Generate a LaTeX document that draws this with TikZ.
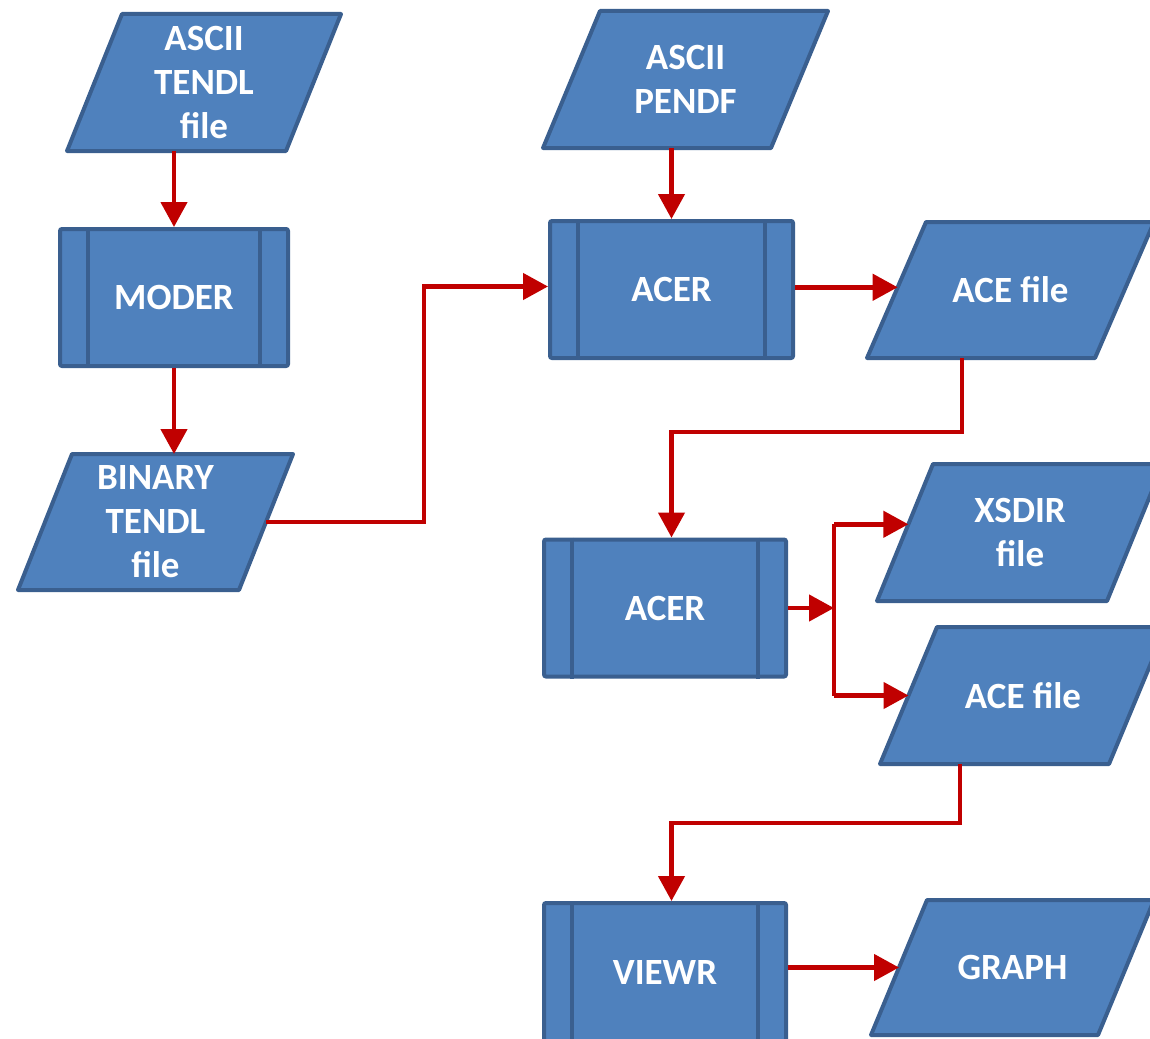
\documentclass[tikz,border=0pt]{standalone}
\usepackage{fontspec}
\setmainfont{Carlito}
\usetikzlibrary{arrows.meta,calc}
\definecolor{boxfill}{HTML}{4F81BD}
\definecolor{boxline}{HTML}{3A5F8F}
\definecolor{arrred}{HTML}{C00000}
% name, bottom-left x, bottom y, top-left x, top y, side width, text
\newcommand\paranode[7]{%
  \coordinate (#1-bl) at (#2,#3);
  \coordinate (#1-br) at ({#2+#6},#3);
  \coordinate (#1-tl) at (#4,#5);
  \coordinate (#1-tr) at ({#4+#6},#5);
  \draw[parashape] (#1-bl) -- (#1-br) -- (#1-tr) -- (#1-tl) -- cycle;
  \node[lbl] (#1) at ($(#1-bl)!0.5!(#1-tr)$) {#7};
}
\begin{document}
\begin{tikzpicture}[x=1pt,y=1pt,
  lbl/.style={text=white,font=\bfseries\fontsize{37}{44}\selectfont,align=center,inner sep=0pt},
  proc/.style={lbl,shape=rectangle,draw=boxline,fill=boxfill,line width=4pt,rounded corners=2pt,minimum height=137pt},
  parashape/.style={draw=boxline,fill=boxfill,line width=4pt,line join=round},
  bar/.style={draw=boxline,line width=4pt},
  redline/.style={draw=arrred,line width=4.5pt},
  arr/.style={redline,-{Triangle[width=26pt,length=25pt]}}
]
\useasboundingbox (0,0) rectangle (1150,-1038);

\paranode{tendl}{67}{-151}{122}{-14}{219}{ASCII\\TENDL\\file}
\node[proc, minimum width=228pt] (moder) at (174,-297.5) {MODER};
\paranode{binary}{18}{-590}{72}{-454}{221}{BINARY\\TENDL\\file}
\paranode{pendf}{543}{-148}{600}{-11}{228}{ASCII\\PENDF}
\node[proc, minimum width=243pt] (acer1) at (671.5,-289.5) {ACER};
\paranode{ace1}{867}{-358}{926}{-222}{228}{ACE file}
\node[proc, minimum width=242pt] (acer2) at (665,-608) {ACER};
\paranode{xsdir}{877}{-601}{933}{-464}{230}{XSDIR\\file}
\paranode{ace2}{880}{-764}{937}{-627}{229}{ACE file}
\node[proc, minimum width=242pt, minimum height=138pt] (viewr) at (665,-972) {VIEWR};
\paranode{graph}{871}{-1035}{927}{-900}{227}{GRAPH}

\foreach \n in {moder,acer1,acer2,viewr}{
  \draw[bar] ($(\n.north west)+(30,0)$) -- ($(\n.south west)+(30,0)$);
  \draw[bar] ($(\n.north east)+(-30,0)$) -- ($(\n.south east)+(-30,0)$);
}

\draw[arr] (tendl-bl -| moder.north) -- (moder.north);
\draw[arr] (moder.south) -- (binary-tl -| moder.south);
\coordinate (binr) at ($(binary-br)!0.5!(binary-tr)$);
\draw[arr] (binr) -- ++(158,0) |- ($(acer1.west)+(0,3)$);
\draw[arr] (pendf-bl -| acer1.north) -- (acer1.north);
\coordinate (ace1l) at ($(ace1-tl)!0.48!(ace1-bl)$);
\draw[arr] (acer1.east |- ace1l) -- (ace1l);
\coordinate (a1b) at ($(ace1-bl)!0.417!(ace1-br)$);
\draw[arr] (a1b) -- ++(0,-74) -| (acer1.north |- acer2.north);
\coordinate (fork) at ($(acer2.east)+(46,0)$);
\draw[arr] (acer2.east) -- (fork);
\coordinate (xin) at ($(xsdir-tl)!0.44!(xsdir-bl)$);
\coordinate (ace2l) at ($(ace2-tl)!0.5!(ace2-bl)$);
\draw[redline] (xin -| fork) -- (ace2l -| fork);
\draw[arr] (xin -| fork) -- (xin);
\draw[arr] (ace2l -| fork) -- (ace2l);
\coordinate (a2b) at ($(ace2-bl)!0.35!(ace2-br)$);
\draw[arr] (a2b) -- ++(0,-59) -| (acer1.north |- viewr.north);
\coordinate (grl) at ($(graph-tl)!0.5!(graph-bl)$);
\draw[arr] (grl -| viewr.east) -- (grl);
\end{tikzpicture}
\end{document}
